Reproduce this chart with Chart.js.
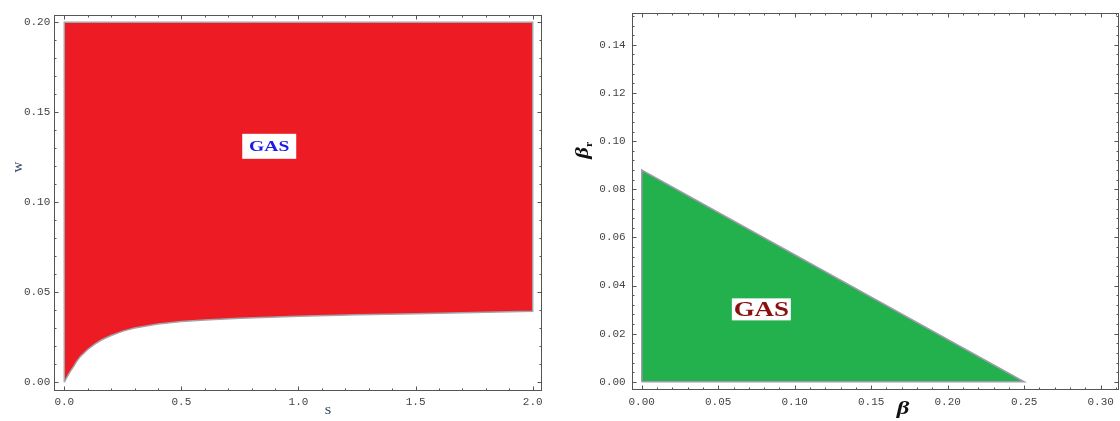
<!DOCTYPE html>
<html>
<head>
<meta charset="utf-8">
<script src="https://cdn.jsdelivr.net/npm/chart.js@4.4.1/dist/chart.umd.min.js"></script>
<style>
  html, body { margin: 0; padding: 0; background: #fff; }
  #wrap { position: relative; width: 1120px; height: 421px; overflow: hidden; }
  canvas { position: absolute; top: 0; }
</style>
</head>
<body>
<div id="wrap">
  <canvas id="leftChart" width="560" height="421" style="left:0"></canvas>
  <canvas id="rightChart" width="560" height="421" style="left:560px"></canvas>
</div>
<script>
// left panel: GAS region in the (s, w) plane, between the lower curve and w = 0.2
const sValues = [0, 0.005, 0.01, 0.02, 0.03, 0.04, 0.053, 0.07, 0.1, 0.13, 0.16, 0.2, 0.25, 0.3, 0.4, 0.5, 0.6, 0.75, 1, 1.25, 1.5, 1.75, 2];
const wLower  = [0, 0.0013, 0.0025, 0.0048, 0.0069, 0.0088, 0.0116, 0.0145, 0.0182, 0.0212, 0.0236, 0.0260, 0.0284, 0.0301, 0.0323, 0.0337, 0.0346, 0.0356, 0.0367, 0.0375, 0.0381, 0.0388, 0.0394];
const wTop = 0.2;
const leftXTicks = [0, 0.5, 1, 1.5, 2];
const leftYTicks = [0, 0.05, 0.1, 0.15, 0.2];

// right panel: GAS region in the (beta, beta_r) plane, a triangle
const betaCorners  = [0, 0, 0.25];
const betaRCorners = [0, 0.088, 0];
const rightXTicks = [0, 0.05, 0.1, 0.15, 0.2, 0.25, 0.3];
const rightYTicks = [0, 0.02, 0.04, 0.06, 0.08, 0.1, 0.12, 0.14];

const tickFont = { family: "'Liberation Mono', monospace", size: 11 };
const tickColor = "#444";

// closed outline of each region
const leftShape = sValues.map((s, i) => ({ x: s, y: wLower[i] }))
  .concat([{ x: sValues[sValues.length - 1], y: wTop }, { x: sValues[0], y: wTop }, { x: sValues[0], y: wLower[0] }]);
const rightShape = betaCorners.map((b, i) => ({ x: b, y: betaRCorners[i] }))
  .concat([{ x: betaCorners[0], y: betaRCorners[0] }]);

/* =======================
   frame with inward ticks on all sides
======================= */
const framePlugin = {
  id: "frame",
  afterDatasetsDraw(chart, args, opts) {
    const { ctx, chartArea: a, scales: { x, y } } = chart;
    const L = Math.round(a.left) + 0.5, R = Math.round(a.right) - 0.5;
    const T = Math.round(a.top) + 0.5, B = Math.round(a.bottom) - 0.5;
    ctx.save();
    ctx.strokeStyle = "#555";
    ctx.lineWidth = 1;
    ctx.strokeRect(L, T, R - L, B - T);
    ctx.beginPath();
    const isMajor = (v, step) => Math.abs(v / step - Math.round(v / step)) < 1e-6;
    for (let k = Math.ceil(x.min / opts.xMinor); k * opts.xMinor <= x.max; k++) {
      const v = k * opts.xMinor;
      const px = Math.round(x.getPixelForValue(v)) + 0.5;
      const len = isMajor(v, opts.xMajor) ? 4 : 2;
      ctx.moveTo(px, B); ctx.lineTo(px, B - len);
      ctx.moveTo(px, T); ctx.lineTo(px, T + len);
    }
    for (let k = Math.ceil(y.min / opts.yMinor); k * opts.yMinor <= y.max; k++) {
      const v = k * opts.yMinor;
      const py = Math.round(y.getPixelForValue(v)) + 0.5;
      const len = isMajor(v, opts.yMajor) ? 4 : 2;
      ctx.moveTo(L, py); ctx.lineTo(L + len, py);
      ctx.moveTo(R, py); ctx.lineTo(R - len, py);
    }
    ctx.stroke();
    ctx.restore();
  }
};

/* =======================
   axis titles and the GAS tags
======================= */
const notesPlugin = {
  id: "notes",
  afterDraw(chart, args, opts) {
    const { ctx, scales: { x, y } } = chart;
    ctx.save();
    // GAS tag
    const tag = opts.tag;
    const cx = x.getPixelForValue(tag.x), cy = y.getPixelForValue(tag.y);
    ctx.fillStyle = "#fff";
    ctx.fillRect(cx - tag.w / 2, cy - tag.h / 2, tag.w, tag.h);
    ctx.save();
    ctx.translate(cx, cy);
    ctx.scale(tag.stretch, 1);
    ctx.font = "bold " + tag.size + "px 'Liberation Serif', serif";
    ctx.fillStyle = tag.color;
    ctx.textAlign = "center";
    ctx.textBaseline = "middle";
    ctx.fillText("GAS", 0, 1);
    ctx.restore();

    // titles
    opts.titles.forEach(t => {
      ctx.save();
      ctx.translate(t.x, t.y);
      if (t.rotate) ctx.rotate(-Math.PI / 2);
      ctx.scale(t.stretch || 1, 1);
      ctx.font = t.font;
      ctx.fillStyle = t.color;
      ctx.textAlign = "center";
      ctx.textBaseline = "middle";
      ctx.fillText(t.text, 0, 0);
      if (t.sub) {
        ctx.font = t.subFont;
        ctx.textAlign = "left";
        ctx.fillText(t.sub, t.subDx, t.subDy);
      }
      ctx.restore();
    });
    ctx.restore();
  }
};

function axis(min, max, ticks, decimals, size, pad, fitKey) {
  return {
    type: "linear",
    min: min,
    max: max,
    grid: { display: false, drawTicks: false },
    border: { display: false },
    ticks: {
      font: tickFont,
      color: tickColor,
      padding: pad,
      autoSkip: false,
      maxRotation: 0,
      callback: v => Number(v).toFixed(decimals)
    },
    afterBuildTicks: s => { s.ticks = ticks.map(v => ({ value: v })); },
    afterFit: s => { s[fitKey] = size; }
  };
}

/* =======================
   1️⃣ left panel (s, w)
======================= */
new Chart(document.getElementById("leftChart"), {
  type: "line",
  data: {
    datasets: [{
      data: leftShape,
      fill: "shape",
      backgroundColor: "#ed1c24",
      borderColor: "#a3a3a8",
      borderWidth: 1.5,
      pointRadius: 0,
      tension: 0
    }]
  },
  options: {
    responsive: false,
    animation: false,
    layout: { padding: { top: 15.3, right: 17.7, left: 0, bottom: 0 } },
    plugins: {
      legend: { display: false },
      tooltip: { enabled: false },
      frame: { xMinor: 0.1, xMajor: 0.5, yMinor: 0.01, yMajor: 0.05 },
      notes: {
        tag: { x: 0.875, y: 0.1311, w: 54, h: 25, size: 14, stretch: 1.4, color: "#1c1ce6" },
        titles: [
          { text: "s", x: 328, y: 410, font: "14px 'Liberation Serif', serif", color: "#3a4a6a", stretch: 1.2 },
          { text: "w", x: 18, y: 167, rotate: true, font: "15px 'Liberation Serif', serif", color: "#3a4a6a" }
        ]
      }
    },
    scales: {
      x: axis(-0.0427, 2.041, leftXTicks, 1, 30.3, 5, "height"),
      y: axis(-0.0047, 0.2039, leftYTicks, 2, 54.3, 4, "width")
    }
  },
  plugins: [framePlugin, notesPlugin]
});

/* =======================
   2️⃣ right panel (beta, beta_r)
======================= */
new Chart(document.getElementById("rightChart"), {
  type: "line",
  data: {
    datasets: [{
      data: rightShape,
      fill: "shape",
      backgroundColor: "#22b14c",
      borderColor: "#a29aae",
      borderWidth: 1.5,
      pointRadius: 0,
      tension: 0
    }]
  },
  options: {
    responsive: false,
    animation: false,
    layout: { padding: { top: 9.3, right: 1.3, left: 0, bottom: 0 } },
    plugins: {
      legend: { display: false },
      tooltip: { enabled: false },
      frame: { xMinor: 0.01, xMajor: 0.05, yMinor: 0.004, yMajor: 0.02 },
      notes: {
        tag: { x: 0.0782, y: 0.0301, w: 59, h: 22, size: 21, stretch: 1.28, color: "#8b1010" },
        titles: [
          { text: "β", x: 343, y: 409, font: "italic bold 19px 'Liberation Serif', serif", color: "#111", stretch: 1.3 },
          { text: "β", x: 23, y: 153, rotate: true, font: "italic bold 19px 'Liberation Serif', serif", color: "#111", stretch: 1.2,
            sub: "r", subFont: "bold 10px 'Liberation Serif', serif", subDx: 5, subDy: 6 }
        ]
      }
    },
    scales: {
      x: axis(-0.00655, 0.3118, rightXTicks, 2, 31, 5, "height"),
      y: axis(-0.0034, 0.1534, rightYTicks, 2, 71.7, 6, "width")
    }
  },
  plugins: [framePlugin, notesPlugin]
});
</script>
</body>
</html>
